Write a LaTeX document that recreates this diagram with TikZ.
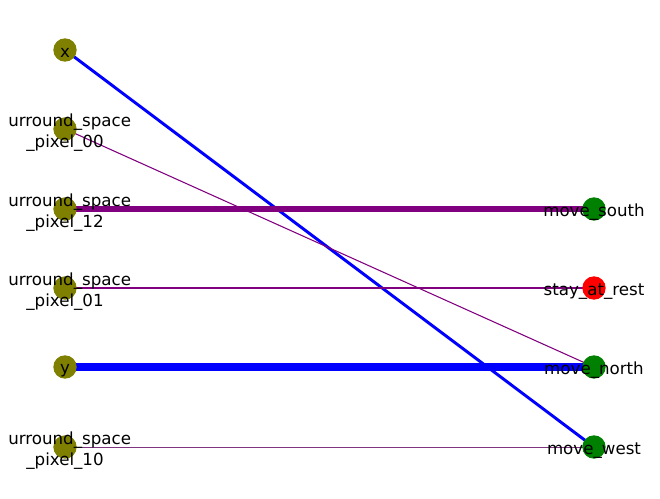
\documentclass[tikz,border=0pt]{standalone}
\usepackage{fontspec}
\setmainfont{DejaVu Sans}
\usetikzlibrary{backgrounds}
\definecolor{olivenode}{RGB}{128,128,0}
\definecolor{greennode}{RGB}{0,128,0}
\definecolor{rednode}{RGB}{255,0,0}
\definecolor{blueedge}{RGB}{0,0,255}
\definecolor{purpleedge}{RGB}{128,0,128}
\tikzset{
  state/.style={circle,fill=#1,minimum size=17.5pt,inner sep=0pt},
  nodetext/.style={font=\fontsize{12.5pt}{15.5pt}\selectfont,align=center,inner sep=0pt,yshift=-2.5pt}
}
\begin{document}
\begin{tikzpicture}[x=0.75pt,y=-0.75pt]
   \useasboundingbox (0,0) rectangle (660,499);
   \node[state=olivenode] (x) at (65,50) {};
   \node[state=olivenode] (p00) at (65,129) {};
   \node[state=olivenode] (p12) at (65,209) {};
   \node[state=olivenode] (p01) at (65,288) {};
   \node[state=olivenode] (y) at (65,367) {};
   \node[state=olivenode] (p10) at (65,447) {};
   \node[state=greennode] (south) at (594,209) {};
   \node[state=rednode] (rest) at (594,288) {};
   \node[state=greennode] (north) at (594,367) {};
   \node[state=greennode] (west) at (594,447) {};
   \begin{scope}[on background layer]
      \draw[color=blueedge,line width=2.2pt] (x.center) -- (west.center);
      \draw[color=purpleedge,line width=0.8pt] (p00.center) -- (north.center);
      \draw[color=purpleedge,line width=3.8pt] (p12.center) -- (south.center);
      \draw[color=purpleedge,line width=1.1pt] (p01.center) -- (rest.center);
      \draw[color=blueedge,line width=5.6pt] (y.center) -- (north.center);
      \draw[color=purpleedge!60!gray,line width=0.5pt] (p10.center) -- (west.center);
   \end{scope}
   \node[nodetext] at (x) {x};
   \node[nodetext] at (p00) {\hspace*{7pt}urround\_space\\\_pixel\_00};
   \node[nodetext] at (p12) {\hspace*{7pt}urround\_space\\\_pixel\_12};
   \node[nodetext] at (p01) {\hspace*{7pt}urround\_space\\\_pixel\_01};
   \node[nodetext] at (y) {y};
   \node[nodetext] at (p10) {\hspace*{7pt}urround\_space\\\_pixel\_10};
   \node[nodetext] at (south) {move\_south};
   \node[nodetext] at (rest) {stay\_at\_rest};
   \node[nodetext] at (north) {move\_north};
   \node[nodetext] at (west) {move\_west};
\end{tikzpicture}
\end{document}
